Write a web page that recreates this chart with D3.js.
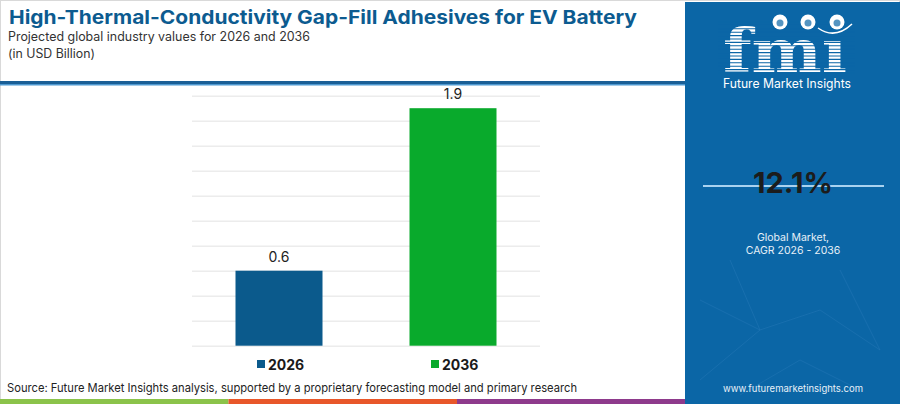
<!DOCTYPE html>
<html>
<head>
<meta charset="utf-8">
<script src="https://cdn.jsdelivr.net/npm/d3@7"></script>
<style>
  body { margin: 0; background: #fff; }
  svg { display: block; font-family: "Inter", "Open Sans", sans-serif; }
</style>
</head>
<body>
<div class="chart"></div>
<script>
var svgWidth = 900;
var svgHeight = 404;

// chart values
var years = ["2026", "2036"];
var values = [0.6, 1.9];
var barColors = ["#0b5a8c", "#09aa2c"];
var yTicks = d3.range(0, 2.01, 0.2);
var cagr = "12.1%";

var svg = d3.select(".chart")
  .append("svg")
  .attr("width", svgWidth)
  .attr("height", svgHeight);

// page frame
svg.append("rect")
  .attr("x", 0.5).attr("y", 0.5)
  .attr("width", svgWidth - 1).attr("height", svgHeight - 1)
  .attr("fill", "#fff")
  .attr("stroke", "#d9d9d9");

// header
svg.append("text")
  .attr("x", 9).attr("y", 24)
  .attr("font-size", 19).attr("font-weight", 700)
  .attr("fill", "#0c5b90")
  .attr("textLength", 628).attr("lengthAdjust", "spacingAndGlyphs")
  .text("High-Thermal-Conductivity Gap-Fill Adhesives for EV Battery");

svg.append("text")
  .attr("x", 8).attr("y", 41)
  .attr("font-size", 12.5).attr("fill", "#333")
  .attr("textLength", 302).attr("lengthAdjust", "spacingAndGlyphs")
  .text("Projected global industry values for 2026 and 2036");

svg.append("text")
  .attr("x", 8).attr("y", 58)
  .attr("font-size", 12.5).attr("fill", "#333")
  .attr("textLength", 87).attr("lengthAdjust", "spacingAndGlyphs")
  .text("(in USD Billion)");

svg.append("rect")
  .attr("x", 0).attr("y", 81).attr("width", 686).attr("height", 3)
  .attr("fill", "#1a5f96");
svg.append("rect")
  .attr("x", 0).attr("y", 84).attr("width", 686).attr("height", 1.5)
  .attr("fill", "#4d98d0");

// chart area
var x = d3.scaleBand()
  .domain(years)
  .range([192, 540])
  .paddingInner(0.5)
  .paddingOuter(0.25);

var y = d3.scaleLinear()
  .domain([0, 2.0])
  .range([345.7, 95.7]);

var grid = svg.append("g")
  .attr("transform", "translate(192,0)")
  .call(d3.axisLeft(y).tickValues(yTicks).tickSize(-348).tickFormat(""));
grid.select(".domain").remove();
grid.selectAll(".tick line")
  .attr("stroke", "#ececec")
  .attr("stroke-width", 1.5);

svg.selectAll(".bar")
  .data(years)
  .enter()
  .append("rect")
  .attr("class", "bar")
  .attr("x", d => x(d))
  .attr("y", (d, i) => y(values[i]))
  .attr("width", x.bandwidth())
  .attr("height", (d, i) => y(0) - y(values[i]))
  .attr("fill", (d, i) => barColors[i]);

svg.selectAll(".val")
  .data(years)
  .enter()
  .append("text")
  .attr("class", "val")
  .attr("x", d => x(d) + x.bandwidth() / 2)
  .attr("y", (d, i) => y(values[i]) - 9)
  .attr("text-anchor", "middle")
  .attr("font-size", 14)
  .attr("fill", "#222")
  .text((d, i) => values[i].toFixed(1));

// legend
var legend = svg.selectAll(".legend")
  .data(years)
  .enter()
  .append("g")
  .attr("class", "legend")
  .attr("transform", d => `translate(${x(d) + x.bandwidth() / 2 - 22}, 360)`);

legend.append("rect")
  .attr("width", 8).attr("height", 8)
  .attr("fill", (d, i) => barColors[i]);

legend.append("text")
  .attr("x", 11).attr("y", 9.5)
  .attr("font-size", 14).attr("font-weight", 700)
  .attr("fill", "#1a1a1a")
  .text(d => d);

// source line
svg.append("text")
  .attr("x", 7).attr("y", 392)
  .attr("font-size", 12).attr("fill", "#222")
  .attr("textLength", 570).attr("lengthAdjust", "spacingAndGlyphs")
  .text("Source: Future Market Insights analysis, supported by a proprietary forecasting model and primary research");

var stripeColors = ["#8bc34a", "#e8572a", "#8e3a8c"];
stripeColors.forEach(function(c, i) {
  svg.append("rect")
    .attr("x", i * 228.5).attr("y", 399)
    .attr("width", 228.5).attr("height", 5)
    .attr("fill", c);
});

// right panel
var panel = svg.append("g");
panel.append("rect")
  .attr("x", 685).attr("y", 2).attr("width", 215).attr("height", 402)
  .attr("fill", "#0b66a6");

// faint network lines
var net = [[700, 300, 760, 330], [760, 330, 820, 310], [820, 310, 880, 350], [730, 260, 760, 330],
  [800, 360, 860, 390], [700, 380, 760, 330], [840, 270, 880, 350], [740, 395, 800, 360]];
net.forEach(function(n) {
  panel.append("line")
    .attr("x1", n[0]).attr("y1", n[1]).attr("x2", n[2]).attr("y2", n[3])
    .attr("stroke", "#2f7fbd").attr("stroke-width", 0.7).attr("opacity", 0.5);
});

// logo
var logo = panel.append("g");
logo.append("text")
  .attr("x", 723).attr("y", 72)
  .attr("font-family", "DejaVu Serif").attr("font-weight", 700)
  .attr("font-size", 60).attr("fill", "#fff")
  .attr("textLength", 124).attr("lengthAdjust", "spacingAndGlyphs")
  .text("fmı");
d3.range(22, 74, 3.4).forEach(function(yy) {
  logo.append("line")
    .attr("x1", 718).attr("x2", 855)
    .attr("y1", yy).attr("y2", yy)
    .attr("stroke", "#0b66a6").attr("stroke-width", 1.1);
});
[[780, 22], [808, 22], [837, 22]].forEach(function(c) {
  logo.append("circle")
    .attr("cx", c[0]).attr("cy", c[1]).attr("r", 7.5)
    .attr("fill", "#fff");
  logo.append("circle")
    .attr("cx", c[0]).attr("cy", c[1] + 1).attr("r", 3.5)
    .attr("fill", "#0b66a6").attr("opacity", 0.7);
});
logo.append("path")
  .attr("d", "M818,28 Q835,40 852,24")
  .attr("fill", "none").attr("stroke", "#fff").attr("stroke-width", 1.5);
logo.append("text")
  .attr("x", 723).attr("y", 88)
  .attr("font-size", 12.5).attr("fill", "#fff")
  .attr("textLength", 128).attr("lengthAdjust", "spacingAndGlyphs")
  .text("Future Market Insights");

// CAGR
panel.append("line")
  .attr("x1", 703).attr("x2", 884)
  .attr("y1", 186).attr("y2", 186)
  .attr("stroke", "#a9d2f0").attr("stroke-width", 2);
panel.append("text")
  .attr("x", 793).attr("y", 193)
  .attr("text-anchor", "middle")
  .attr("font-size", 29).attr("font-weight", 700)
  .attr("fill", "#1c1c1c")
  .text(cagr);
panel.append("text")
  .attr("x", 793).attr("y", 241)
  .attr("text-anchor", "middle")
  .attr("font-size", 10.5).attr("fill", "#e6f0f8")
  .text("Global Market,");
panel.append("text")
  .attr("x", 793).attr("y", 254)
  .attr("text-anchor", "middle")
  .attr("font-size", 10.5).attr("fill", "#e6f0f8")
  .text("CAGR 2026 - 2036");
panel.append("text")
  .attr("x", 793).attr("y", 392)
  .attr("text-anchor", "middle")
  .attr("font-size", 9.5).attr("fill", "#e6f0f8")
  .text("www.futuremarketinsights.com");
</script>
</body>
</html>
